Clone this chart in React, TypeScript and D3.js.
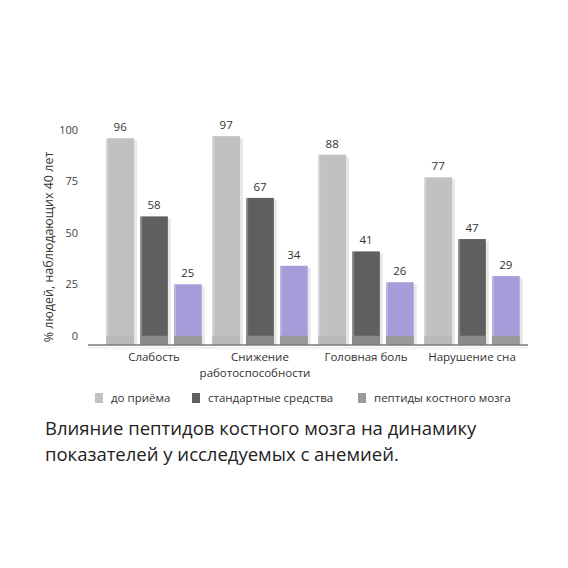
import React from "react";
import * as d3 from "d3";

// Chart data
const categoryLines: string[][] = [
  ["Слабость"],
  ["Снижение", "работоспособности"],
  ["Головная боль"],
  ["Нарушение сна"],
];
const categories = ["Слабость", "Снижение работоспособности", "Головная боль", "Нарушение сна"];
const seriesNames = ["до приёма", "стандартные средства", "пептиды костного мозга"];
const beforeValues = [96, 97, 88, 77];
const standardValues = [58, 67, 41, 47];
const peptideValues = [25, 34, 26, 29];
const yTicks = [0, 25, 50, 75, 100];

const seriesValues = [beforeValues, standardValues, peptideValues];
const seriesColors = ["#c1c1c1", "#5f5f5f", "#a59cd9"];
const baseColors = ["#b9b9b9", "#8a8a8a", "#9a9a9a"];

const W = 568;
const H = 568;
const FONT = "'Open Sans', 'Noto Sans', sans-serif";

export default function App() {
  // value scale: the band just below zero forms the plinth under every bar
  const y = d3.scaleLinear().domain([-4.5, 100]).range([345, 130]);
  const x0 = d3
    .scaleBand<string>()
    .domain(categories)
    .range([101, 525])
    .paddingInner(0.1)
    .paddingOuter(0.05);
  const x1 = d3
    .scaleBand<number>()
    .domain([0, 1, 2])
    .range([0, x0.bandwidth()])
    .paddingInner(0.18)
    .paddingOuter(0);

  const baseY = y(-4.5);
  const zeroY = y(0);

  return (
    <svg
      width={W}
      height={H}
      viewBox={`0 0 ${W} ${H}`}
      style={{ position: "absolute", left: 0, top: 0, background: "#fff" }}
      fontFamily={FONT}
    >
      {/* y tick labels */}
      {yTicks.map((t) => (
        <text
          key={t}
          x={78}
          y={y(t)}
          dy="0.35em"
          textAnchor="end"
          fontSize={11}
          fill="#444"
        >
          {t}
        </text>
      ))}

      {/* y axis title */}
      <text
        transform={`translate(49,247) rotate(-90)`}
        textAnchor="middle"
        fontSize={12.5}
        fill="#333"
        dy="0.35em"
      >
        % людей, наблюдающих 40 лет
      </text>

      {/* bars */}
      {categories.map((c, ci) => (
        <g key={c} transform={`translate(${x0(c)},0)`}>
          {seriesValues.map((vals, si) => {
            const bx = x1(si) as number;
            const bw = x1.bandwidth();
            const top = y(vals[ci]);
            return (
              <g key={si}>
                <rect
                  x={bx + 3}
                  y={top + 2}
                  width={bw}
                  height={baseY - top - 2}
                  fill="#d6d6d6"
                  opacity={0.55}
                />
                <rect x={bx} y={top} width={bw} height={baseY - top} fill={seriesColors[si]} />
                <rect x={bx} y={top} width={2} height={baseY - top} fill="#ffffff" opacity={0.25} />
                <rect x={bx} y={zeroY} width={bw} height={baseY - zeroY} fill={baseColors[si]} />
                <text
                  x={bx + bw / 2}
                  y={top - 7}
                  textAnchor="middle"
                  fontSize={11.5}
                  fill="#333"
                >
                  {vals[ci]}
                </text>
              </g>
            );
          })}
        </g>
      ))}

      {/* baseline */}
      <line x1={88} x2={528} y1={baseY} y2={baseY} stroke="#7a7a7a" strokeWidth={1.6} />
      <line x1={88} x2={528} y1={baseY + 3} y2={baseY + 3} stroke="#e4e4e4" strokeWidth={1} />

      {/* category labels */}
      {categories.map((c, ci) => {
        const cx = (x0(c) as number) + x0.bandwidth() / 2;
        return (
          <text key={c} x={cx} y={361} textAnchor="middle" fontSize={11.5} fill="#333">
            {categoryLines[ci].map((line, li) => (
              <tspan key={li} x={cx - (li > 0 ? 5 : 0)} dy={li === 0 ? 0 : 16}>
                {line}
              </tspan>
            ))}
          </text>
        );
      })}

      {/* legend */}
      {seriesNames.map((name, si) => {
        const lx = [95, 192, 358][si];
        return (
          <g key={name}>
            <rect x={lx} y={393} width={8} height={10} fill={si === 2 ? "#9a9a9a" : seriesColors[si]} />
            <text x={lx + 16} y={398} dy="0.35em" fontSize={11.5} fill="#333">
              {name}
            </text>
          </g>
        );
      })}

      {/* caption */}
      <text x={45} y={435} fontSize={18.5} fill="#222">
        Влияние пептидов костного мозга на динамику
      </text>
      <text x={45} y={461} fontSize={18.5} fill="#222">
        показателей у исследуемых с анемией.
      </text>
    </svg>
  );
}
